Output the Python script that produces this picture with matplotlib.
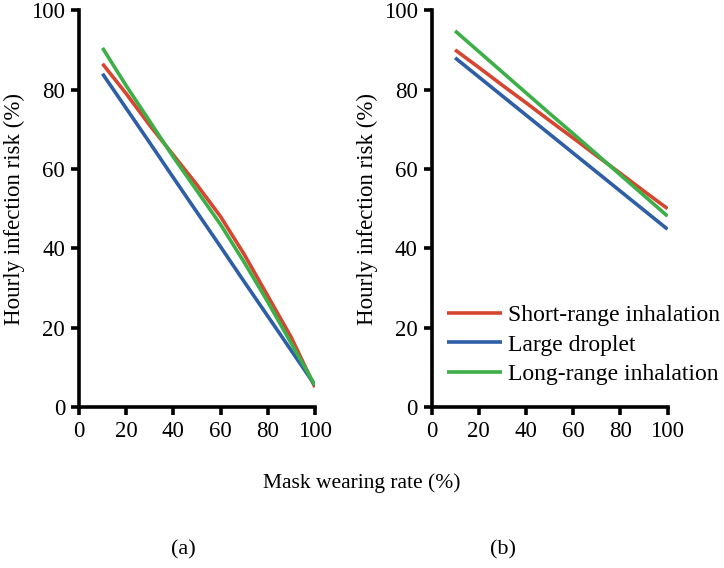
import matplotlib
matplotlib.use("Agg")
import matplotlib.pyplot as plt

plt.rcParams['font.family'] = ['Liberation Serif', 'DejaVu Serif']

mask_rate = [10, 20, 30, 40, 50, 60, 70, 80, 90, 100]

# Panel (a)
a_short = [86.5, 79.0, 71.0, 63.5, 56.0, 48.0, 38.5, 28.0, 17.5, 5.0]
a_large = [84.0, 75.3, 66.6, 57.8, 49.1, 40.4, 31.6, 22.9, 14.2, 5.5]
a_long = [90.5, 81.0, 72.0, 63.0, 54.5, 46.0, 36.5, 26.5, 16.0, 5.5]

# Panel (b)
b_short = [90.0, 85.6, 81.1, 76.7, 72.2, 67.8, 63.3, 58.9, 54.4, 50.0]
b_large = [88.0, 83.2, 78.4, 73.6, 68.8, 64.0, 59.2, 54.4, 49.6, 44.8]
b_long = [94.8, 89.6, 84.4, 79.2, 74.0, 68.9, 63.7, 58.5, 53.3, 48.1]

series_names = ["Short-range inhalation", "Large droplet", "Long-range inhalation"]
colors = ["#d5452f", "#2e5fa6", "#3daf48"]
x_ticks = [0, 20, 40, 60, 80, 100]
y_ticks = [0, 20, 40, 60, 80, 100]

fig = plt.figure(figsize=(7.24, 5.68), dpi=100)
ax1 = fig.add_axes([0.109, 0.2835, 0.326, 0.6985])
ax2 = fig.add_axes([0.596, 0.2835, 0.326, 0.6985])

for ax, data in [(ax1, [a_short, a_large, a_long]), (ax2, [b_short, b_large, b_long])]:
    for vals, c, name in zip(data, colors, series_names):
        ax.plot(mask_rate, vals, color=c, lw=2.6, label=name, solid_capstyle='butt')
    ax.set_xlim(0, 100)
    ax.set_ylim(0, 100)
    ax.set_xticks(x_ticks)
    ax.set_yticks(y_ticks)
    ax.spines['top'].set_visible(False)
    ax.spines['right'].set_visible(False)
    for s in ['left', 'bottom']:
        ax.spines[s].set_linewidth(2.6)
    ax.tick_params(direction='out', length=6, width=2.6, labelsize=16.5, pad=4)
    ax.set_ylabel("Hourly infection risk (%)", fontsize=16.5, labelpad=4)

ax2.legend(loc='lower left', bbox_to_anchor=(0.024, 0.032), frameon=False, fontsize=17,
           handlelength=2.33, handletextpad=0.25, labelspacing=0.33, borderaxespad=0.0)

fig.text(0.5, 0.15, "Mask wearing rate (%)", ha='center', va='center', fontsize=15.5)
fig.text(0.253, 0.032, "(a)", ha='center', va='center', fontsize=16)
fig.text(0.695, 0.032, "(b)", ha='center', va='center', fontsize=16)

fig.savefig("out.png", dpi=100)
